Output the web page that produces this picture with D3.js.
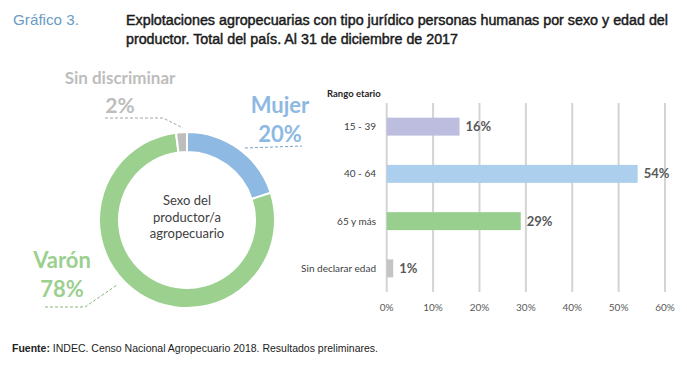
<!DOCTYPE html>
<html>
<head>
  <meta charset="utf-8">
  <script src="https://d3js.org/d3.v7.min.js"></script>
  <style>
    body { margin: 0; background: #fff; }
    svg text { font-family: Lato, "Open Sans", sans-serif; }
    .head { font-family: "Liberation Sans Narrow", "Liberation Sans", Arial, sans-serif !important; }
  </style>
</head>
<body>
  <svg id="chart" width="687" height="366"></svg>
  <script>
    // donut: sexo del productor
    var sexLabels = ["Mujer", "Varón", "Sin discriminar"];
    var sexValues = [20, 78, 2];
    var sexColors = ["#8db9e2", "#9bd08f", "#bdbdbd"];

    // bars: rango etario
    var ageLabels = ["15 - 39", "40 - 64", "65 y más", "Sin declarar edad"];
    var ageValues = [15.7, 54.1, 28.9, 1.4];
    var ageText = ["16%", "54%", "29%", "1%"];
    var ageColors = ["#bdbde0", "#abcfec", "#98cf8e", "#c4c4c4"];
    var xTicks = [0, 10, 20, 30, 40, 50, 60];

    var svg = d3.select("#chart");

    // header
    svg.append("text").attr("class", "head")
      .attr("x", 13).attr("y", 25)
      .attr("textLength", 66).attr("lengthAdjust", "spacingAndGlyphs")
      .style("font-size", "15px").style("fill", "#6a9cc4")
      .text("Gráfico 3.");
    var title = svg.append("text").attr("class", "head")
      .style("font-size", "14px").style("fill", "#1a1a1a")
      .style("stroke", "#1a1a1a").style("stroke-width", 0.45);
    title.append("tspan").attr("x", 126).attr("y", 25)
      .attr("textLength", 542).attr("lengthAdjust", "spacingAndGlyphs")
      .text("Explotaciones agropecuarias con tipo jurídico personas humanas por sexo y edad del");
    title.append("tspan").attr("x", 126).attr("y", 44)
      .attr("textLength", 332).attr("lengthAdjust", "spacingAndGlyphs")
      .text("productor. Total del país. Al 31 de diciembre de 2017");

    // ---- donut ----
    var cx = 187, cy = 220;
    var pie = d3.pie().sort(null).value(d => d);
    var arc = d3.arc().innerRadius(68).outerRadius(88);
    var donut = svg.append("g").attr("transform", "translate(" + cx + "," + cy + ")");
    donut.selectAll("path").data(pie(sexValues)).enter().append("path")
      .attr("d", arc)
      .style("fill", (d, i) => sexColors[i])
      .style("stroke", "#fff").style("stroke-width", 2);

    ["Sexo del", "productor/a", "agropecuario"].forEach(function (s, i) {
      donut.append("text").attr("x", 0).attr("y", -15 + i * 16.5)
        .attr("text-anchor", "middle")
        .style("font-size", "13px").style("fill", "#404040")
        .text(s);
    });

    // donut labels
    var sexLabelPos = [
      { x: 280, y1: 113, y2: 142, size: 22, line: [[245, 148], [302, 146]] },
      { x: 62, y1: 268, y2: 297, size: 22, line: [[45, 307], [85, 307], [117, 285]] },
      { x: 120, y1: 84, y2: 113, size: 17, size2: 21, line: [[105, 118], [163, 118], [183, 128]] }
    ];
    sexLabels.forEach(function (lab, i) {
      var p = sexLabelPos[i];
      svg.append("text").attr("x", p.x).attr("y", p.y1)
        .attr("text-anchor", "middle")
        .style("font-size", p.size + "px").style("font-weight", "bold")
        .style("fill", sexColors[i]).text(lab);
      svg.append("text").attr("x", p.x).attr("y", p.y2)
        .attr("text-anchor", "middle")
        .style("font-size", (p.size2 || p.size) + "px").style("font-weight", "bold")
        .style("fill", sexColors[i]).text(sexValues[i] + "%");
      svg.append("path")
        .attr("d", d3.line()(p.line))
        .style("fill", "none").style("stroke", d3.color(sexColors[i]).darker(0.4))
        .style("stroke-width", 1).style("stroke-dasharray", "3,2");
    });

    // ---- bars ----
    var x = d3.scaleLinear().domain([0, 60]).range([386.7, 665]);
    var y = d3.scaleBand().domain(ageLabels).range([103, 292]).paddingInner(0.62).paddingOuter(0.31);

    var grid = svg.append("g");
    grid.selectAll("line").data(xTicks).enter().append("line")
      .attr("x1", d => x(d)).attr("x2", d => x(d))
      .attr("y1", 103).attr("y2", 292)
      .style("stroke", "#d4d4d4").style("stroke-width", 2);

    svg.append("g").selectAll("text").data(xTicks).enter().append("text")
      .attr("x", d => x(d)).attr("y", 311)
      .attr("text-anchor", "middle")
      .style("font-size", "10px").style("fill", "#595959")
      .text(d => d + "%");

    svg.append("g").selectAll("rect").data(ageValues).enter().append("rect")
      .attr("x", x(0))
      .attr("y", (d, i) => y(ageLabels[i]))
      .attr("width", d => x(d) - x(0))
      .attr("height", y.bandwidth())
      .style("fill", (d, i) => ageColors[i]);

    svg.append("g").selectAll("text").data(ageValues).enter().append("text")
      .attr("x", d => x(d) + 6)
      .attr("y", (d, i) => y(ageLabels[i]) + y.bandwidth() / 2 + 4.5)
      .style("font-size", "13px").style("font-weight", "bold").style("fill", "#595959")
      .text((d, i) => ageText[i]);

    svg.append("g").selectAll("text").data(ageLabels).enter().append("text")
      .attr("x", 376)
      .attr("y", d => y(d) + y.bandwidth() / 2 + 3.5)
      .attr("text-anchor", "end")
      .style("font-size", "10px").style("fill", "#404040")
      .text(d => d);

    svg.append("text").attr("x", 327).attr("y", 97)
      .style("font-size", "9.5px").style("font-weight", "bold").style("fill", "#262626")
      .text("Rango etario");

    // footer
    var foot = svg.append("text").attr("class", "head")
      .attr("x", 12).attr("y", 352)
      .attr("textLength", 366).attr("lengthAdjust", "spacingAndGlyphs")
      .style("font-size", "10.5px").style("fill", "#222");
    foot.append("tspan").style("font-weight", "bold").text("Fuente:");
    foot.append("tspan").text(" INDEC. Censo Nacional Agropecuario 2018. Resultados preliminares.");
  </script>
</body>
</html>
